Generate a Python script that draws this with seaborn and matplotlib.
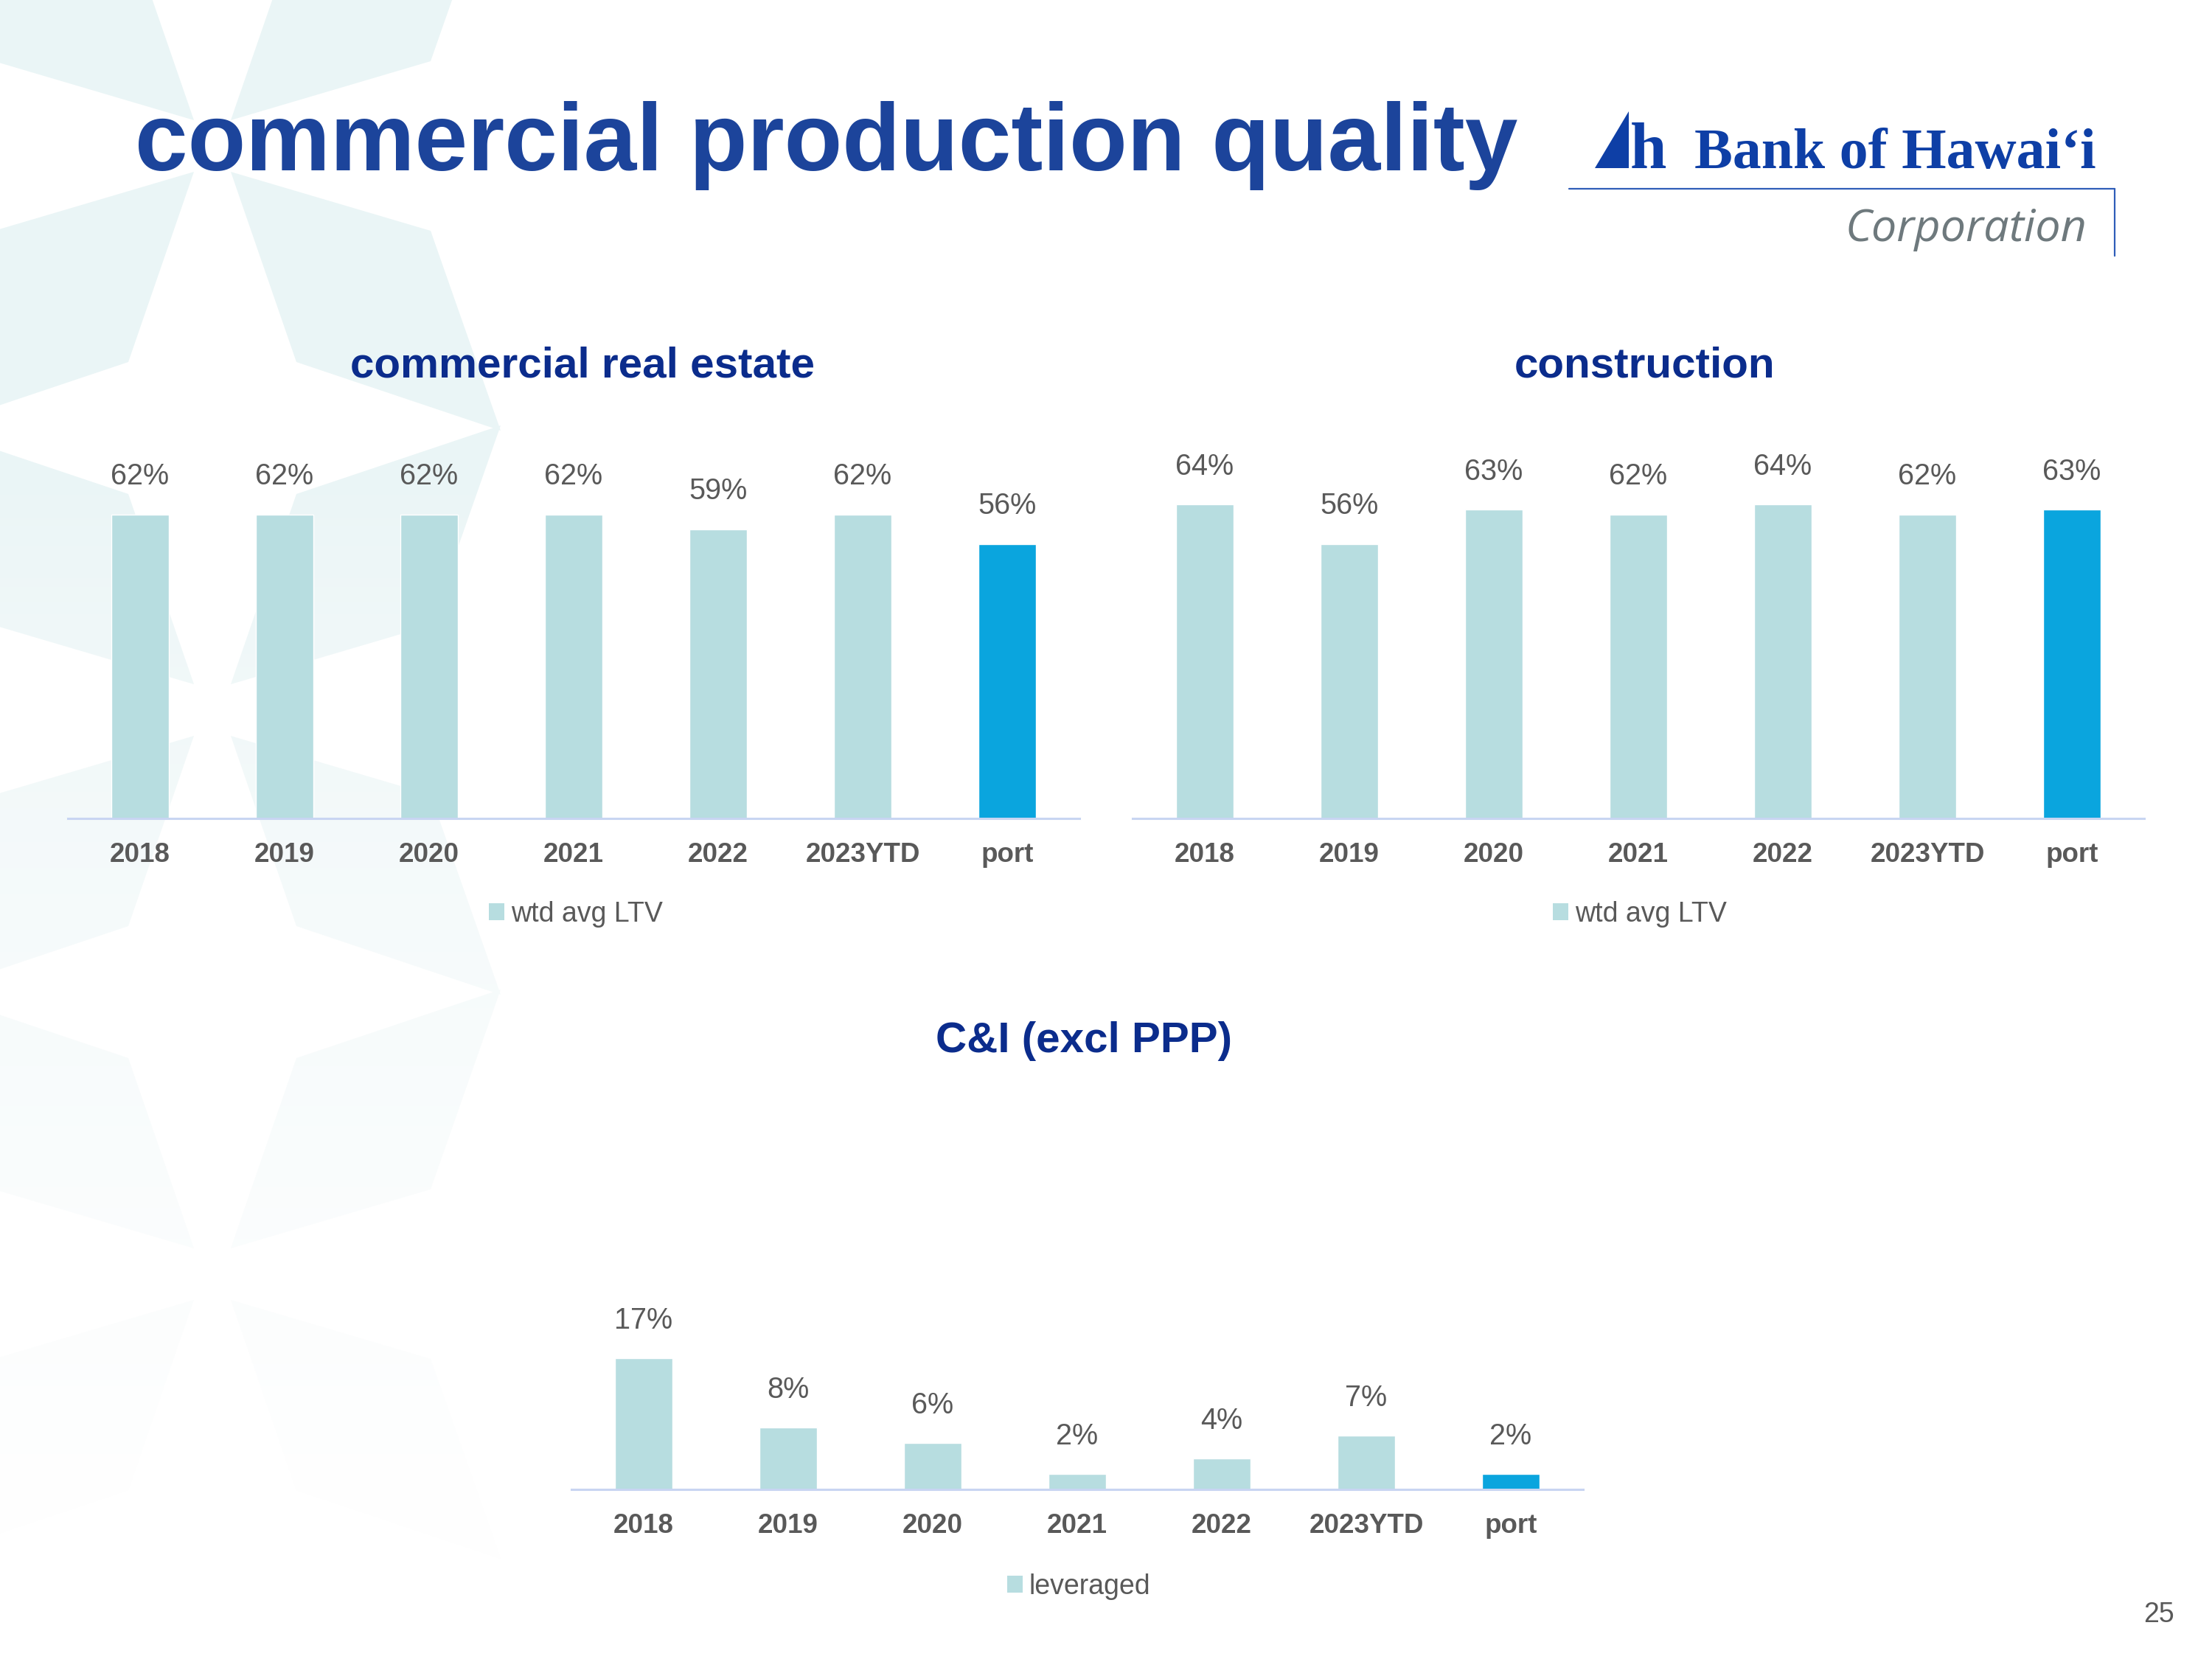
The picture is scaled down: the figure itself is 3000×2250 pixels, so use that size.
import matplotlib.pyplot as plt
import numpy as np
import seaborn as sns
from matplotlib.lines import Line2D
from matplotlib.patches import Patch, Polygon

# chart data
categories = ["2018", "2019", "2020", "2021", "2022", "2023YTD", "port"]
cre_ltv = [62, 62, 62, 62, 59, 62, 56]
construction_ltv = [64, 56, 63, 62, 64, 62, 63]
ci_leveraged = [17, 8, 6, 2, 4, 7, 2]

panel_titles = ["commercial real estate", "construction", "C&I (excl PPP)"]
legend_labels = ["wtd avg LTV", "wtd avg LTV", "leveraged"]

BAR_LIGHT = "#B7DDE0"
BAR_PORT = "#0AA5DE"
GRAY = "#595959"
TITLE_BLUE = "#1C449B"
SUB_NAVY = "#0B2C8C"
LOGO_BLUE = "#0E3FA6"
AXIS_LINE = "#C8D5F2"
PATTERN = "#EAF5F6"

W, H = 3000, 2250

sns.set_theme(style="white")
plt.rcParams["font.family"] = ["Liberation Sans", "DejaVu Sans"]

fig = plt.figure(figsize=(W / 100, H / 100), dpi=100)
fig.patch.set_facecolor("white")


def fx(x):
    return x / W


def fy(y):
    return 1 - y / H


# ---- background star pattern (fades out downwards) ----
bg = fig.add_axes([0, 0, 1, 1], zorder=-10)
petal = np.array([[25, 35], [296, 115], [391, 386], [114, 293]])
for cy in [198, 963, 1728]:
    for sx, sy in [(1, 1), (1, -1), (-1, 1), (-1, -1)]:
        pts = petal * np.array([sx, sy]) + np.array([288, cy])
        bg.add_patch(Polygon(pts, closed=True, fc=PATTERN, ec="none", zorder=1))
ys = np.linspace(0, H, 400)
alpha = np.clip((ys - 650) / 1350, 0, 1) ** 0.7 * 0.97
fade = np.ones((400, 1, 4))
fade[..., 3] = alpha[:, None]
bg.imshow(fade, extent=(0, 1100, H, 0), aspect="auto", zorder=2, interpolation="bilinear")
bg.set_xlim(0, W)
bg.set_ylim(H, 0)
bg.axis("off")

# ---- slide title and logo ----
fig.text(fx(183), fy(231), "commercial production quality", fontsize=92.8,
         fontweight="bold", color=TITLE_BLUE, ha="left", va="baseline")

bg.add_patch(Polygon([[2163, 228], [2209, 151], [2209, 228]], closed=True,
                     fc=LOGO_BLUE, ec="none", zorder=3))
fig.text(fx(2211), fy(228), "h", fontsize=64, fontweight="bold", color=LOGO_BLUE,
         family="Liberation Serif", ha="left", va="baseline")
fig.text(fx(2298), fy(228), "Bank of Hawai\u2018i", fontsize=56, fontweight="bold",
         color=LOGO_BLUE, family="Liberation Serif", ha="left", va="baseline")
bg.add_line(Line2D([2128, 2868], [256, 256], color="#2F5DB8", lw=1.6, zorder=3))
bg.add_line(Line2D([2868, 2868], [256, 347], color="#2F5DB8", lw=1.6, zorder=3))
fig.text(fx(2830), fy(327), "Corporation", fontsize=44, style="italic", color="#6E797D",
         family="Open Sans", ha="right", va="baseline")

fig.text(fx(2928), fy(2200), "25", fontsize=27, color=GRAY, ha="center", va="baseline")

# ---- bar panels ----
palette = {c: BAR_LIGHT for c in categories}
palette["port"] = BAR_PORT

panels = [
    # values, axes rect (px: left, baseline, width, px per %), ylim top, title xy, legend xy
    (cre_ltv, (92, 1110, 1372, 6.65), 70, (790, 512), (781, 1240)),
    (construction_ltv, (1536, 1110, 1372, 6.65), 70, (2231, 512), (2224, 1240)),
    (ci_leveraged, (775, 2020, 1372, 10.45), 20, (1470, 1427), (1463, 2152)),
]

for (values, (left, base, width, ppu), ytop, title_xy, leg_xy), title, leg in zip(
        panels, panel_titles, legend_labels):
    height = ytop * ppu
    ax = fig.add_axes([fx(left), fy(base), width / W, height / H])
    ax.patch.set_alpha(0)
    sns.barplot(x=categories, y=values, hue=categories, palette=palette, legend=False,
                width=0.4, saturation=1, ax=ax)
    ax.set_xlim(-0.5, len(categories) - 0.5)
    ax.set_ylim(0, ytop)
    ax.set_xlabel("")
    ax.set_ylabel("")
    ax.set_yticks([])
    for side in ["top", "left", "right"]:
        ax.spines[side].set_visible(False)
    ax.spines["bottom"].set_color(AXIS_LINE)
    ax.spines["bottom"].set_linewidth(2.2)
    ax.tick_params(axis="x", length=0, pad=23, labelsize=26.5, labelcolor=GRAY)
    for lbl in ax.get_xticklabels():
        lbl.set_fontweight("bold")

    for i, v in enumerate(values):
        ax.annotate(f"{v}%", (i, v), xytext=(0, 29), textcoords="offset points",
                    ha="center", va="baseline", fontsize=28.5, color=GRAY,
                    annotation_clip=False)

    fig.text(fx(title_xy[0]), fy(title_xy[1]), title, fontsize=42, fontweight="bold",
             color=SUB_NAVY, ha="center", va="baseline")

    ax.legend(handles=[Patch(fc=BAR_LIGHT, ec="none", label=leg)], loc="center",
              bbox_to_anchor=(fx(leg_xy[0]), fy(leg_xy[1])), bbox_transform=fig.transFigure,
              frameon=False, fontsize=27, handlelength=0.56, handleheight=0.56,
              handletextpad=0.25, labelcolor=GRAY, borderpad=0)

fig.savefig("out.png", dpi=100, facecolor="white")
